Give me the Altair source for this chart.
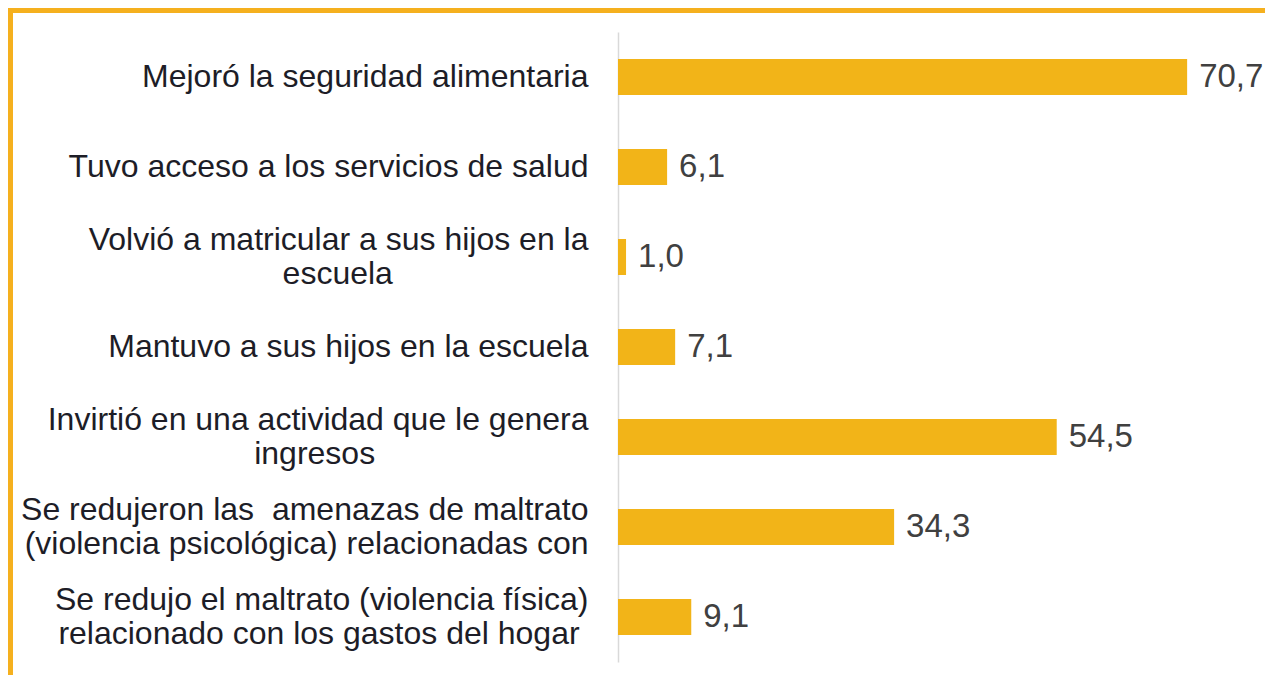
import altair as alt
import pandas as pd

# ---- data ----
categories = [
    "Mejoró la seguridad alimentaria",
    "Tuvo acceso a los servicios de salud",
    "Volvió a matricular a sus hijos en la|escuela",
    "Mantuvo a sus hijos en la escuela",
    "Invirtió en una actividad que le genera|ingresos",
    "Se redujeron las \u00a0amenazas de maltrato|(violencia psicológica) relacionadas con",
    "Se redujo el maltrato (violencia física)|relacionado con los gastos del hogar",
]
values = [70.7, 6.1, 1.0, 7.1, 54.5, 34.3, 9.1]
value_labels = ["70,7", "6,1", "1,0", "7,1", "54,5", "34,3", "9,1"]

# Approximate Liberation Sans advance widths (1/1000 em), used only to
# centre the lines of a wrapped label on each other (as in the reference).
_W = {" ": 278, "\u00a0": 278, "(": 333, ")": 333, ",": 278,
      "a": 556, "b": 556, "c": 500, "d": 556, "e": 556, "f": 278, "g": 556,
      "h": 556, "i": 222, "j": 222, "k": 500, "l": 222, "m": 833, "n": 556,
      "o": 556, "p": 556, "q": 556, "r": 333, "s": 500, "t": 278, "u": 556,
      "v": 500, "w": 722, "x": 500, "y": 500, "z": 500,
      "á": 556, "é": 556, "í": 278, "ó": 556, "ú": 556,
      "I": 278, "M": 833, "S": 667, "T": 611, "V": 667}


def _width(s):
    return sum(_W.get(ch, 556) for ch in s)


def _centre(label):
    lines = label.split("|")
    if len(lines) == 1:
        return label
    wmax = max(_width(l) for l in lines)
    out = []
    for l in lines:
        pad = int(round((wmax - _width(l)) / 2 / 278))
        # trailing no-break spaces, protected from trimming by a zero-width space
        out.append(l + "\u00a0" * pad + ("\u200b" if pad else ""))
    return "|".join(out)


df = pd.DataFrame({
    "label": [_centre(c) for c in categories],
    "value": values,
    "text": value_labels,
})

BAR = "#F2B418"
FRAME = "#F5B01E"
FONT = "Liberation Sans"

y_enc = alt.Y(
    "label:N",
    sort=None,
    title=None,
    scale=alt.Scale(paddingInner=0.6, paddingOuter=0.3),
    axis=alt.Axis(
        labelExpr="split(datum.label, '|')",
        labelFont=FONT,
        labelFontSize=32,
        labelLineHeight=34,
        labelColor="#1d1d27",
        labelPadding=30,
        labelLimit=0,
        labelBaseline="middle",
        labelOffset={
            "condition": {"test": "indexof(datum.label, '|') >= 0", "value": -17},
            "value": 0,
        },
        ticks=False,
        domainColor="#d9d9d9",
        domainWidth=1.5,
        grid=False,
    ),
)
x_enc = alt.X("value:Q", scale=alt.Scale(domain=[0, 80]), axis=None)

base = alt.Chart(df)
bars = base.mark_bar(color=BAR).encode(x=x_enc, y=y_enc)
texts = base.mark_text(
    align="left", baseline="middle", dx=12, fontSize=33, font=FONT, color="#404040"
).encode(x=x_enc, y=y_enc, text="text:N")

frame_df = pd.DataFrame({"k": [0]})
top_rule = alt.Chart(frame_df).mark_rule(color=FRAME, strokeWidth=5).encode(
    x=alt.value(-610), x2=alt.value(660), y=alt.value(-21.5)
)
left_rule = alt.Chart(frame_df).mark_rule(color=FRAME, strokeWidth=5).encode(
    x=alt.value(-607.5), y=alt.value(-24), y2=alt.value(660)
)

chart = (
    alt.layer(bars, texts, top_rule, left_rule)
    .properties(
        width=644,
        height=630,
        autosize=alt.AutoSizeParams(type="none"),
        padding={"left": 610, "top": 24, "right": 3, "bottom": 13},
        background="white",
    )
    .configure_view(stroke=None)
)

chart.save("out.html", embed_options={"renderer": "svg", "actions": False})
